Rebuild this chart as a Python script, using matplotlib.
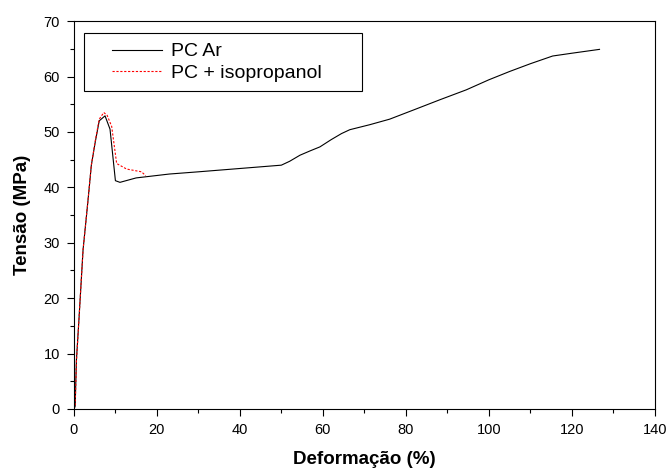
import matplotlib
matplotlib.use('Agg')
from matplotlib import pyplot as plt
from matplotlib.patches import Rectangle
from matplotlib.ticker import MultipleLocator

plt.rcParams['font.family'] = ['Liberation Sans', 'DejaVu Sans']

# PC Ar
x_ar = [0, 0.3, 0.6, 1.2, 2.2, 3.4, 4.2, 5.1, 6.1, 7.5, 8.7, 10.0, 11.1, 15, 23, 30, 40, 50,
        52, 54.5, 57, 59.3, 62, 64.5, 66.5, 71.3, 76.1, 82, 88.2, 94.6, 100, 105, 110,
        115.4, 120, 126.7]
y_ar = [0, 0.5, 8.8, 16, 28.7, 37.7, 44, 48, 52, 52.9, 50.5, 41.2, 40.9, 41.7, 42.4, 42.8, 43.4, 44,
        44.7, 45.8, 46.6, 47.3, 48.6, 49.7, 50.4, 51.3, 52.3, 54, 55.8, 57.6, 59.4, 60.9, 62.3,
        63.7, 64.2, 64.9]

# PC + isopropanol
x_iso = [0, 0.3, 0.6, 1.2, 2.2, 3.4, 4.2, 5.1, 6.1, 7.2, 8.0, 9.1, 10.3, 12.7, 16.3, 17.3]
y_iso = [0, 0.5, 8.5, 16, 28.7, 37.7, 44, 48.2, 52.3, 53.5, 53, 51, 44.3, 43.3, 42.8, 42.1]

fig = plt.figure(figsize=(6.66, 4.69), dpi=100)
ax = fig.add_axes([0.111, 0.128, 0.872, 0.827])

ax.plot(x_ar, y_ar, color='black', lw=0.8, label='PC Ar')
ax.plot(x_iso, y_iso, color='red', lw=0.8, ls=(0, (2, 1.5)), label='PC + isopropanol')

ax.set_xlim(0, 140)
ax.set_ylim(0, 70)
ax.xaxis.set_major_locator(MultipleLocator(20))
ax.xaxis.set_minor_locator(MultipleLocator(10))
ax.yaxis.set_major_locator(MultipleLocator(10))
ax.yaxis.set_minor_locator(MultipleLocator(5))
ax.tick_params(which='both', direction='out', top=False, right=False, labelsize=10.5)
ax.tick_params(which='major', length=5, width=0.8, pad=5)
ax.tick_params(which='minor', length=3, width=0.8)

ax.set_xlabel('Deformação (%)', fontsize=13.5, fontweight='bold', labelpad=10)
ax.set_ylabel('Tensão (MPa)', fontsize=13.5, fontweight='bold', labelpad=9)

# caixa da legenda desenhada à parte
ax.add_patch(Rectangle((0.0172, 0.8196), 0.4785, 0.1494, transform=ax.transAxes,
                       facecolor='white', edgecolor='black', lw=0.8, zorder=4))
leg = ax.legend(loc='upper left', bbox_to_anchor=(0.0654, 0.944), borderaxespad=0,
                borderpad=0, fontsize=14, frameon=False, handlelength=2.6,
                handletextpad=0.45, labelspacing=0.2)
leg.set_zorder(5)

plt.savefig('out.png')
